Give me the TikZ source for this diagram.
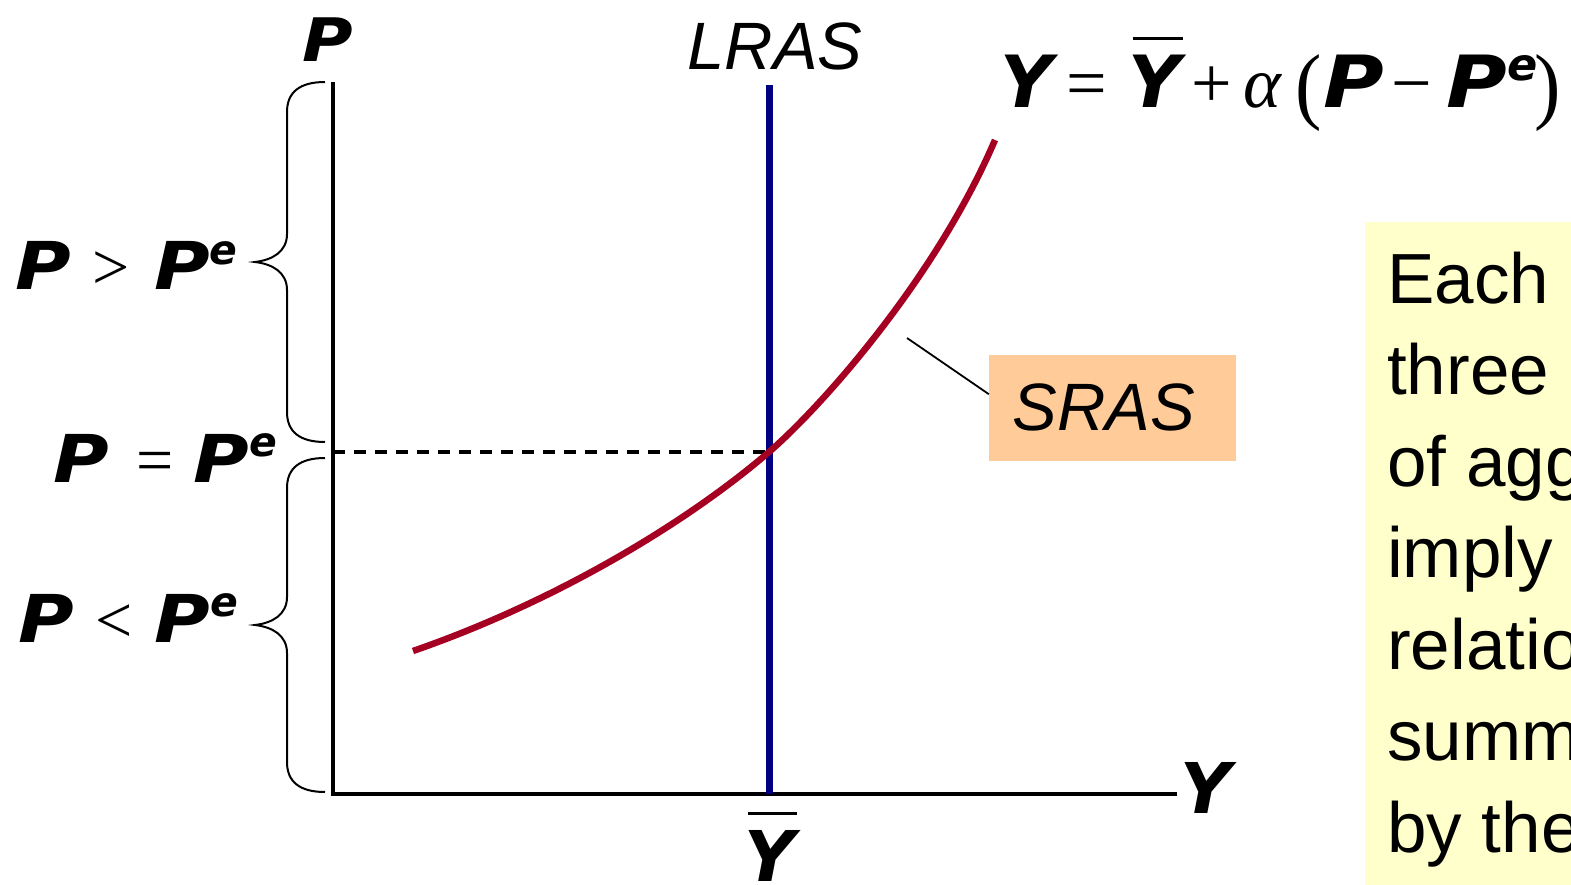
\documentclass[tikz,border=0pt]{standalone}
\usepackage{fontspec}
\usepackage{graphicx}
\setmainfont{Liberation Sans}
\newfontfamily\verd{DejaVu Sans}
\newfontfamily\verdw{DejaVu Sans}[FakeStretch=1.15]
\newfontfamily\symf{Liberation Serif}
\usetikzlibrary{calc}
\definecolor{srasred}{HTML}{A50021}
\definecolor{lrasblue}{HTML}{000080}
\definecolor{labelpeach}{HTML}{FFCC99}
\definecolor{noteyellow}{HTML}{FFFFCC}
\newcommand{\fs}[1]{\fontsize{#1}{#1}\selectfont}
\newcommand{\vY}{{\verd\bfseries\itshape Y}}
\newcommand{\vP}{{\verdw\bfseries\itshape P}}
\newcommand{\sy}[1]{{\symf #1}}
\newcommand{\Pexp}{\vP\raisebox{.38em}{\scalebox{.62}{\verd\bfseries\itshape e}}}
\newcommand{\Ybar}{\vbox{\offinterlineskip\hbox{\kern.05em\vrule width .7em height .05em}\kern.21em\hbox{\vY}}}
\newcommand{\bigparen}[1]{\raisebox{-.07em}{\scalebox{1.1}[1.18]{\symf #1}}}

\begin{document}
\begin{tikzpicture}[x=1pt,y=-1pt,line join=miter,
  axis/.style={line width=4.5pt},
  lrasline/.style={draw=lrasblue,line width=7pt},
  srasline/.style={draw=srasred,line width=6.5pt},
  guide/.style={line width=4pt,dash pattern=on 12pt off 9pt},
  bracestroke/.style={line width=2pt},
  lbl/.style={inner sep=0pt,anchor=base}]
\useasboundingbox (0,0) rectangle (1571,885);
\clip (0,0) rectangle (1571,885);
% note box on the right (cut by the page edge)
\fill[noteyellow] (1365,222) rectangle (1590,900);
\foreach \ln [count=\i from 0] in {Each of the,three models,of aggregate,imply the,relationship,summarized,by the SRAS}
  \node[lbl,anchor=base west,font=\fs{71}] (note\i) at (1387,{303+91.5*\i}) {\ln};
% axes
\coordinate (O) at (333,794);
\coordinate (Ptop) at (333,82);
\coordinate (Yend) at (1177,794);
\draw[axis] (Ptop) -- (O) -- (Yend);
\node[lbl,font=\fs{60}] (Plbl) at (328,62) {\vP};
\node[lbl,anchor=base west,font=\fs{70}] (Ylbl) at (1180,813) {\vY};
\node[lbl,font=\fs{70}] (Ybarlbl) at (771,881) {\Ybar};
% long run supply
\coordinate (lrastop) at (769,85);
\coordinate (lrasbot) at (769,794);
\draw[lrasline] (lrastop) -- (lrasbot);
\node[lbl,font=\fs{67}\itshape] (lraslbl) at (775,70) {LRAS};
% expected price level
\coordinate (Pe) at (333,452);
\coordinate (eqpt) at (769,452);
\draw[guide] (Pe) -- (eqpt);
% short run supply
\coordinate (sstart) at (413,651);
\coordinate (send) at (995,140);
\draw[srasline] (sstart) .. controls (560,600) and (690,520) .. (eqpt)
  .. controls (820,408) and (935,280) .. (send);
\node[fill=labelpeach,minimum width=247pt,minimum height=106pt,inner sep=0pt] (srasbox) at (1112.5,408) {};
\node[lbl,font=\fs{67}\itshape] (sraslbl) at (1104,430) {SRAS};
\coordinate (lead) at (907,338);
\draw[line width=1.8pt] (lead) -- ($(srasbox.north west)!.37!(srasbox.south west)$);
\node[lbl,anchor=base west,font=\fs{72}] (srasfn) at (1000,108)
  {\vY\kern.2em\sy{=}\kern.3em\Ybar\kern.12em\sy{+}\kern.15em\sy{\itshape α}\kern.2em\bigparen{(}\kern.03em\vP\kern.1em\sy{−}\kern.2em\Pexp\kern-.04em\bigparen{)}};
% price ranges
\foreach \btop/\bbot in {82/442,458/792}{
  \pgfmathsetmacro{\bmid}{(\btop+\bbot)/2}
  \draw[bracestroke] (325,\btop) .. controls (300,\btop) and (287,{\btop+10}) .. (287,{\btop+30})
    -- (287,{\bmid-28}) .. controls (287,{\bmid-10}) and (272,{\bmid-2}) .. (255,\bmid)
    .. controls (272,{\bmid+2}) and (287,{\bmid+10}) .. (287,{\bmid+28})
    -- (287,{\bbot-30}) .. controls (287,{\bbot-10}) and (300,\bbot) .. (325,\bbot);
}
\node[lbl,anchor=base west,font=\fs{66}] (gtlbl) at (15,290) {\vP\kern.33em\sy{>}\kern.37em\Pexp};
\node[lbl,anchor=base west,font=\fs{66}] (eqlbl) at (53,482) {\vP\kern.42em\sy{=}\kern.3em\Pexp};
\node[lbl,anchor=base west,font=\fs{66}] (ltlbl) at (18,642) {\vP\kern.33em\sy{<}\kern.33em\Pexp};
\end{tikzpicture}
\end{document}
